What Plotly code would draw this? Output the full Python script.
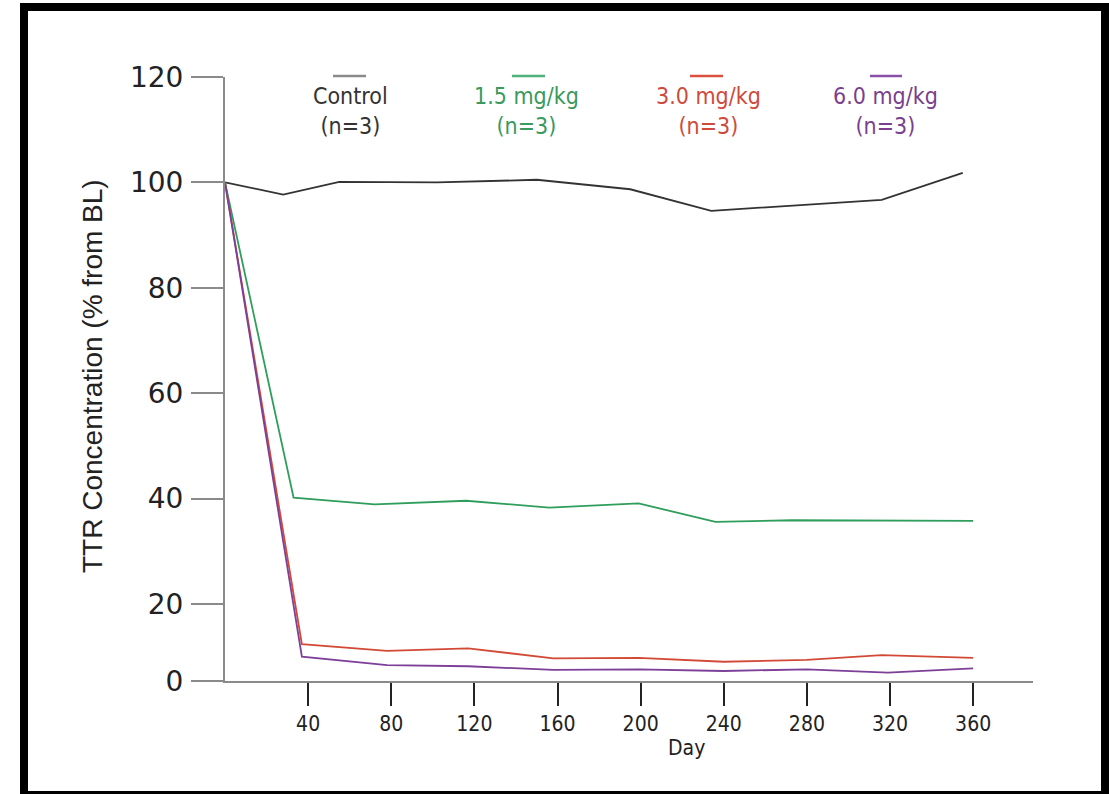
import plotly.graph_objects as go

# ---- data ----
control_days = [0, 28, 55, 102, 150, 195, 234, 316, 355]
control_vals = [100, 97.7, 100.1, 100.0, 100.5, 98.7, 94.6, 96.7, 101.8]

g15_days = [0, 33, 72, 116, 156, 199, 236, 273, 360]
g15_vals = [100, 40.2, 38.9, 39.6, 38.3, 39.1, 35.6, 35.9, 35.8]

g30_days = [0, 37, 78, 117, 158, 199, 240, 280, 316, 360]
g30_vals = [100, 12.4, 11.1, 11.6, 9.7, 9.8, 9.05, 9.4, 10.3, 9.8]

g60_days = [0, 37, 78, 117, 158, 199, 240, 280, 319, 360]
g60_vals = [100, 10.0, 8.4, 8.2, 7.5, 7.6, 7.3, 7.6, 7.0, 7.8]

series_names = ["Control", "1.5 mg/kg", "3.0 mg/kg", "6.0 mg/kg"]
series_n = ["(n=3)", "(n=3)", "(n=3)", "(n=3)"]

x_ticks = [40, 80, 120, 160, 200, 240, 280, 320, 360]
y_ticks = [20, 40, 60, 80, 100, 120]
Y_MIN = 5.4   # the axis baseline labelled "0" in the original figure
X_MAX = 388.8

# ---- styling ----
W, H = 1109, 794
ML, MR, MT, MB = 225, 76, 77, 113
PW, PH = W - ML - MR, H - MT - MB

def px(x):
    return (x - ML) / PW

def py(y):
    return (H - MB - y) / PH

line_colors = ["#333333", "#2f9e5c", "#d24a36", "#7d3f98"]
text_colors = ["#333333", "#3a9a5e", "#cf4a3a", "#7a3f8e"]
key_colors = ["#8a8a8a", "#4fb07a", "#d9503c", "#8a50a8"]
NARROW = "Liberation Sans Narrow, DejaVu Sans Condensed, Liberation Sans"

fig = go.Figure()
for d, v, name, c in zip(
    [control_days, g15_days, g30_days, g60_days],
    [control_vals, g15_vals, g30_vals, g60_vals],
    series_names, line_colors,
):
    fig.add_trace(go.Scatter(x=d, y=v, mode="lines", name=name,
                             line=dict(color=c, width=1.8), showlegend=False))

fig.update_layout(
    width=W, height=H,
    margin=dict(l=ML, r=MR, t=MT, b=MB, autoexpand=False),
    paper_bgcolor="white", plot_bgcolor="white",
    showlegend=False,
)

fig.update_xaxes(
    range=[0, X_MAX], tickvals=x_ticks, ticktext=[str(t) for t in x_ticks],
    ticks="outside", ticklen=23, tickwidth=1.5, tickcolor="#222222",
    showline=True, linecolor="#8a8a8a", linewidth=2,
    showgrid=False, zeroline=False,
    tickfont=dict(family=NARROW, size=21, color="#222222"),
)
fig.update_yaxes(
    range=[Y_MIN, 120], tickvals=[Y_MIN] + y_ticks,
    ticktext=["0"] + [str(t) for t in y_ticks],
    ticks="outside", ticklen=32, tickwidth=2, tickcolor="#8a8a8a",
    showline=True, linecolor="#8a8a8a", linewidth=2,
    showgrid=False, zeroline=False,
    tickfont=dict(family="DejaVu Sans", size=28, color="#222222"),
    ticklabelstandoff=2,
)

annotations = []
annotations.append(dict(
    text="Day", xref="paper", yref="paper", x=px(686), y=py(748),
    xanchor="center", yanchor="middle", showarrow=False,
    font=dict(family=NARROW, size=21, color="#222222"),
))
annotations.append(dict(
    text="TTR Concentration (% from BL)", xref="paper", yref="paper",
    x=px(92), y=py(376), textangle=-90,
    xanchor="center", yanchor="middle", showarrow=False,
    font=dict(family="Liberation Sans", size=28, color="#222222"),
))

label_cx = [350, 526, 708, 885]
key_x = [(333, 366), (512, 545), (690, 723), (870, 902)]
shapes = []
for name, n, cx, (k0, k1), tc, kc in zip(series_names, series_n, label_cx, key_x, text_colors, key_colors):
    annotations.append(dict(
        text=f"{name}<br>{n}", xref="paper", yref="paper",
        x=px(cx), y=py(111), xanchor="center", yanchor="middle",
        showarrow=False, align="center",
        font=dict(family=NARROW, size=23, color=tc),
    ))
    shapes.append(dict(type="line", xref="paper", yref="paper",
                       x0=px(k0), x1=px(k1), y0=py(76), y1=py(76),
                       line=dict(color=kc, width=2.5)))

shapes.append(dict(type="rect", xref="paper", yref="paper",
                   x0=px(24), x1=px(1105), y0=py(795), y1=py(7),
                   line=dict(color="black", width=8), fillcolor="rgba(0,0,0,0)",
                   layer="above"))

fig.update_layout(annotations=annotations, shapes=shapes)

fig.write_html("out.html",
               config={"displayModeBar": False},
               post_script="document.body.style.margin='0px';document.body.style.overflow='hidden';")
